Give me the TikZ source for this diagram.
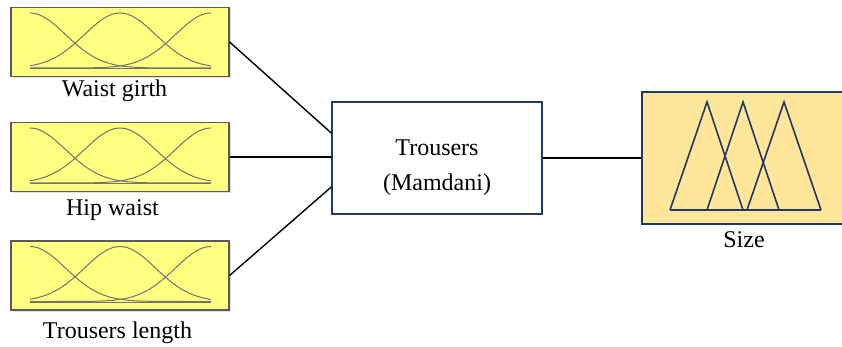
\documentclass[tikz,border=0pt]{standalone}
\usepackage{fontspec}
\setmainfont{Liberation Serif}
\usetikzlibrary{shadows}
\definecolor{inyellow}{HTML}{FFFF80}
\definecolor{outgold}{HTML}{FFE699}
\definecolor{navy}{HTML}{203864}

\begin{document}
\begin{tikzpicture}[x=1pt,y=-1pt,font=\fontsize{24}{35}\selectfont,
  mfbox/.style={rectangle,draw=black!65,line width=1.2pt,fill=inyellow,minimum width=218pt,minimum height=69pt,inner sep=0pt,drop shadow={shadow xshift=2pt,shadow yshift=-2pt,fill=black!12,opacity=1}},
  mfcurve/.style={draw=black!55,line width=1pt},
  link/.style={draw=black,line width=1.4pt}]
\clip (0,0) rectangle (842,347);
% inputs
\node (waist) at (120,42)[mfbox] {};
\node (hip) at (120,157)[mfbox] {};
\node (length) at (120,275.5)[mfbox] {};
\node (lwaist) at (114.5,97)[anchor=base] {Waist girth};
\node (lhip) at (112.5,215)[anchor=base] {Hip waist};
\node (llength) at (117.5,338)[anchor=base] {Trousers length};
\foreach \b in {waist,hip,length}{
  \begin{scope}[shift={(\b.center)}]
  \draw[mfcurve] plot[domain=-90:91,samples=60,smooth] (\x,{26-55*exp(-0.5*((\x+90)/35.6)^2)});
  \draw[mfcurve] plot[domain=-90:91,samples=60,smooth] (\x,{26-55*exp(-0.5*(\x/35.6)^2)});
  \draw[mfcurve] plot[domain=-90:91,samples=60,smooth] (\x,{26-55*exp(-0.5*((\x-91)/35.6)^2)});
  \draw[mfcurve] (-90,27) -- (91,27);
  \end{scope}
}
% system
\node (fis) at (437,158)[rectangle,draw=navy,line width=1.5pt,fill=white,minimum width=210pt,minimum height=112pt] {};
\node (lfis) at (437,168)[align=center] {Trousers\\(Mamdani)};
% output
\node (out) at (744,158)[rectangle,draw=navy,line width=1.5pt,fill=outgold,minimum width=204pt,minimum height=132pt] {};
\node (lsize) at (744,247)[anchor=base] {Size};
\begin{scope}[shift={(out.center)}]
\foreach \l/\t/\r in {-74/-37/-1,-37/-1/35,3/40/77}
  \draw[navy,line width=1.6pt,line join=miter] (\l,52) -- (\t,-56) -- (\r,52);
\draw[navy,line width=1.6pt] (-74,52) -- (77,52);
\end{scope}
\draw[link] (waist.east) -- ([yshift=25pt]fis.west);
\draw[link] (hip.east) -- (hip.east -| fis.west);
\draw[link] (length.east) -- ([yshift=-29pt]fis.west);
\draw[link] (fis.east) -- (out.west);
\end{tikzpicture}
\end{document}
